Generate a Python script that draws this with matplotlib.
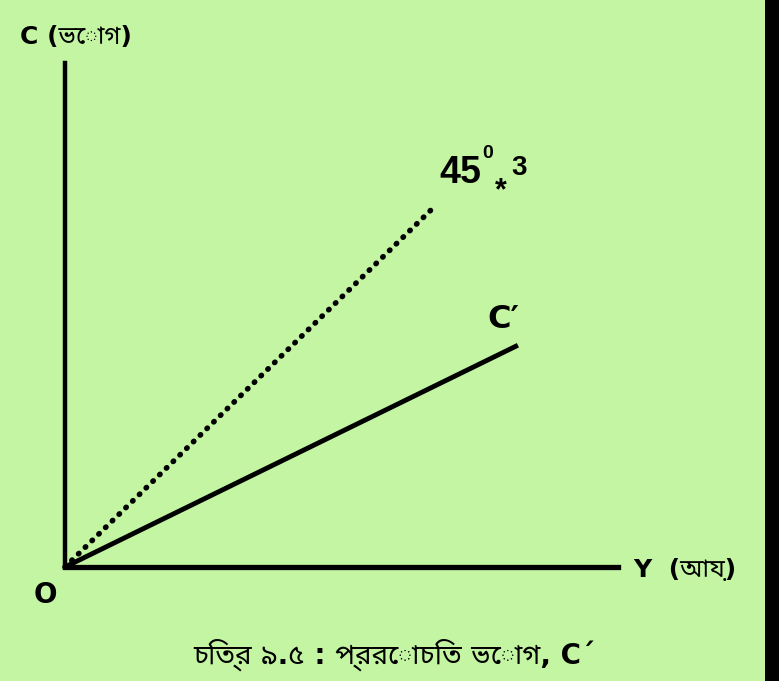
import matplotlib
matplotlib.use("Agg")
import matplotlib.pyplot as plt
from matplotlib.patches import Rectangle

# আয় (Y) আর ভোগ (C) — অক্ষের এককে
income = [0, 6.69]
consumption_45 = [0, 7.16]
income_c = [0, 8.19]
consumption_c = [0, 4.40]

x_label = "Y  (আয়)"
y_label = "C (ভোগ)"
caption = "চিত্র ৯.৫ : প্ররোচিত ভোগ, C´"

bg = "#c3f5a3"
plt.rcParams['font.family'] = ['DejaVu Sans', 'Noto Sans Bengali']
narrow = ['Liberation Sans', 'DejaVu Sans']

fig = plt.figure(figsize=(7.79, 6.81), dpi=100, facecolor=bg)
ax = fig.add_axes([65 / 779, 1 - 567 / 681, 553 / 779, 504 / 681])
ax.set_facecolor(bg)
ax.set_xlim(0, 10)
ax.set_ylim(0, 10)

# 45 ডিগ্রি রেখা (ডটেড) আর C' রেখা
ax.plot(income, consumption_45, color='black', lw=4, linestyle=(0, (0.1, 1.6)),
        dash_capstyle='round', clip_on=False)
ax.plot(income_c, consumption_c, color='black', lw=3.5, solid_capstyle='butt', clip_on=False)

for s in ['top', 'right']:
    ax.spines[s].set_visible(False)
ax.spines['left'].set_linewidth(3.2)
ax.spines['bottom'].set_linewidth(3.8)
ax.set_xticks([])
ax.set_yticks([])

fig.text(20 / 779, 1 - 37 / 681, y_label, fontsize=18, fontweight='bold', va='center', ha='left')
fig.text(633 / 779, 1 - 570 / 681, x_label, fontsize=18, fontweight='bold', va='center', ha='left')
fig.text(45 / 779, 1 - 595 / 681, "O", fontsize=20, fontweight='bold', va='center', ha='center')

# 45⁰*3 লেবেল
fig.text(439 / 779, 1 - 183 / 681, "45", fontsize=27, fontweight='bold', va='baseline', ha='left', family=narrow)
fig.text(482 / 779, 1 - 158 / 681, "0", fontsize=14, fontweight='bold', va='baseline', ha='left', family=narrow)
fig.text(495 / 779, 1 - 199 / 681, "*", fontsize=22, fontweight='bold', va='baseline', ha='left', family=narrow)
fig.text(511 / 779, 1 - 175 / 681, "3", fontsize=20, fontweight='bold', va='baseline', ha='left', family=narrow)

fig.text(503 / 779, 1 - 320 / 681, "C′", fontsize=23, fontweight='bold', va='center', ha='center')

fig.text(394 / 779, 1 - 655 / 681, caption, fontsize=20, fontweight='bold', va='center', ha='center')

# ডান দিকের কালো পাড়
fig.patches.append(Rectangle((765 / 779, 0), 14 / 779, 1, transform=fig.transFigure,
                             facecolor='black', edgecolor='none'))

fig.savefig("out.png", dpi=100, facecolor=bg)
